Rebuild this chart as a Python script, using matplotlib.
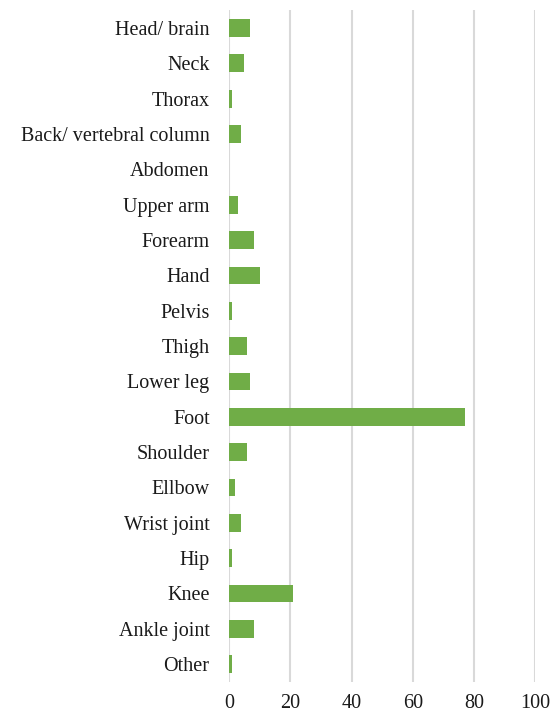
import matplotlib
matplotlib.use('Agg')
import matplotlib.pyplot as plt

# body regions, top to bottom as shown
regions = ['Head/ brain', 'Neck', 'Thorax', 'Back/ vertebral column', 'Abdomen',
           'Upper arm', 'Forearm', 'Hand', 'Pelvis', 'Thigh', 'Lower leg', 'Foot',
           'Shoulder', 'Ellbow', 'Wrist joint', 'Hip', 'Knee', 'Ankle joint', 'Other']
counts = [7, 5, 1, 4, 0, 3, 8, 10, 1, 6, 7, 77, 6, 2, 4, 1, 21, 8, 1]
xticks = [0, 20, 40, 60, 80, 100]

plt.rcParams['font.family'] = ['Liberation Serif', 'DejaVu Serif']

fig = plt.figure(figsize=(5.5, 7.17), dpi=100)
ax = fig.add_axes([0.4164, 0.0492, 0.5569, 0.9364])

ypos = list(range(len(regions)))
ax.barh(ypos, counts, height=0.5, color='#70ad47', zorder=3)
ax.set_yticks(ypos)
ax.set_yticklabels(regions, fontsize=14.5, color='#1a1a1a')
ax.set_ylim(len(regions) - 0.5, -0.5)
ax.set_xlim(0, 100)
ax.set_xticks(xticks)
ax.set_xticklabels([str(t) for t in xticks], fontsize=14.5, color='#1a1a1a')
ax.tick_params(axis='both', length=0)
ax.tick_params(axis='x', pad=9)
ax.tick_params(axis='y', pad=14)
ax.xaxis.grid(True, color='#d9d9d9', linewidth=1.5, zorder=0)
for s in ax.spines.values():
    s.set_visible(False)

fig.savefig('out.png', dpi=100)
